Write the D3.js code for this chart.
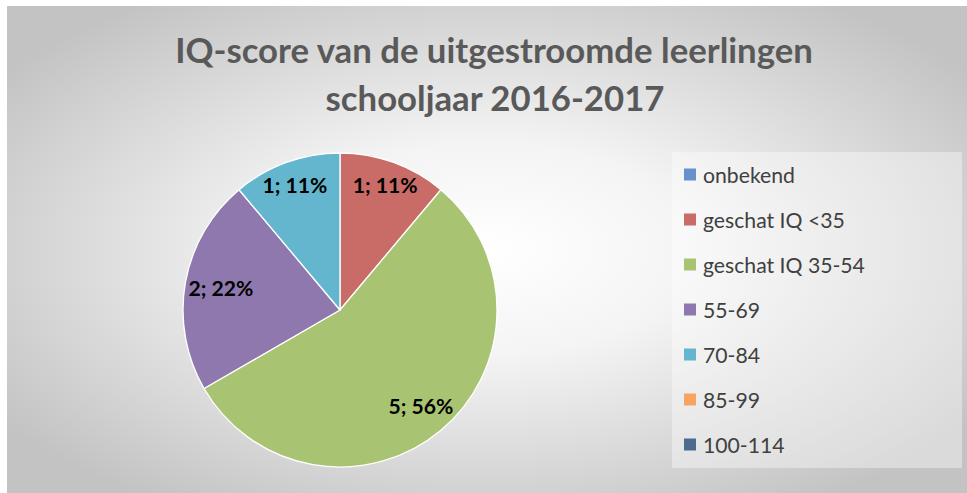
<!DOCTYPE html>
<html>
<head>
<meta charset="utf-8">
<script src="https://cdn.jsdelivr.net/npm/d3@7"></script>
<style>
  html, body { margin: 0; padding: 0; background: #ffffff; }
  svg { display: block; }
</style>
</head>
<body>
<svg id="chart" width="967" height="493"></svg>
<script>
// ---- data ----
const categories = ["onbekend", "geschat IQ <35", "geschat IQ 35-54", "55-69", "70-84", "85-99", "100-114"];
const counts = [0, 1, 5, 2, 1, 0, 0];
const colors = ["#6791CA", "#C96B67", "#A8C472", "#8F78AD", "#63B6CD", "#F7A462", "#4E6A8F"];
const titleLines = ["IQ-score van de uitgestroomde leerlingen", "schooljaar 2016-2017"];

const W = 967, H = 493;
const svg = d3.select("#chart");
const FONT = "Lato, 'Open Sans', sans-serif";

// background gradient
const defs = svg.append("defs");
const rg = defs.append("radialGradient").attr("id", "bg")
  .attr("cx", "0.5").attr("cy", "0.5").attr("r", "0.62");
rg.append("stop").attr("offset", "0").attr("stop-color", "#ffffff");
rg.append("stop").attr("offset", "0.35").attr("stop-color", "#f4f4f4");
rg.append("stop").attr("offset", "1").attr("stop-color", "#c3c3c3");

svg.append("rect").attr("x", 7).attr("y", 6).attr("width", W - 7).attr("height", H - 6)
  .attr("fill", "url(#bg)");

// fit helper: scale font so that a text reaches a target width
function fitSize(sel, target) {
  const w = sel.node().getComputedTextLength();
  const fs = parseFloat(sel.attr("font-size"));
  sel.attr("font-size", fs * target / w);
  return fs * target / w;
}

// title
const t1 = svg.append("text").attr("x", 494).attr("y", 63).attr("text-anchor", "middle")
  .attr("font-family", FONT).attr("font-weight", "bold").attr("font-size", 32)
  .attr("fill", "#595959").text(titleLines[0]);
const tfs = fitSize(t1, 638);
svg.append("text").attr("x", 495).attr("y", 111).attr("text-anchor", "middle")
  .attr("font-family", FONT).attr("font-weight", "bold").attr("font-size", tfs)
  .attr("fill", "#595959").text(titleLines[1]);

// pie
const cx = 340, cy = 310, R = 157;
const pie = d3.pie().value(d => d.v).sort(null);
const data = categories.map((c, i) => ({ c, v: counts[i], col: colors[i] }));
const arcs = pie(data);
const arc = d3.arc().innerRadius(0).outerRadius(R);
const total = d3.sum(counts);

const g = svg.append("g").attr("transform", `translate(${cx},${cy})`);
g.selectAll("path").data(arcs.filter(a => a.data.v > 0)).join("path")
  .attr("d", arc).attr("fill", d => d.data.col)
  .attr("stroke", "#ffffff").attr("stroke-width", 1.3).attr("stroke-linejoin", "round");

// labels: best-fit inside the slice
const labelG = g.append("g");
const labs = labelG.selectAll("text").data(arcs.filter(a => a.data.v > 0)).join("text")
  .attr("text-anchor", "middle").attr("font-family", FONT).attr("font-weight", "bold")
  .attr("font-size", 21).attr("fill", "#000000")
  .text(d => `${d.data.v}; ${Math.round(d.data.v / total * 100)}%`);
const lfs = fitSize(labs.filter(d => d.data.v === 5), 65);
labs.attr("font-size", lfs);
labs.each(function(d) {
  const w = this.getComputedTextLength();
  const hw = w / 2, hh = lfs * 0.36;
  const a = (d.startAngle + d.endAngle) / 2;
  const ux = Math.sin(a), uy = -Math.cos(a);
  let r = R * 0.84;
  while (r > 0) {
    const px = ux * r, py = uy * r;
    const far = Math.hypot(Math.abs(px) + hw, Math.abs(py) + hh);
    if (far <= R * 0.985) break;
    r -= 1;
  }
  d3.select(this).attr("x", ux * r).attr("y", uy * r + lfs * 0.35);
});

// legend
svg.append("rect").attr("x", 672).attr("y", 152).attr("width", 290).attr("height", 316)
  .attr("fill", "#ffffff").attr("fill-opacity", 0.38);
const rowY = d3.scalePoint().domain(categories).range([175, 445]);
const lg = svg.append("g");
const items = lg.selectAll("g").data(data).join("g")
  .attr("transform", d => `translate(684,${rowY(d.c)})`);
items.append("rect").attr("x", 0).attr("y", -6.5).attr("width", 12).attr("height", 12)
  .attr("fill", d => d.col);
const ltexts = items.append("text").attr("x", 19).attr("y", 7)
  .attr("font-family", FONT).attr("font-size", 20).attr("fill", "#404040")
  .text(d => d.c);
const legfs = fitSize(ltexts.filter(d => d.c === "geschat IQ 35-54"), 162);
ltexts.attr("font-size", legfs).attr("y", legfs * 0.36);
</script>
</body>
</html>
